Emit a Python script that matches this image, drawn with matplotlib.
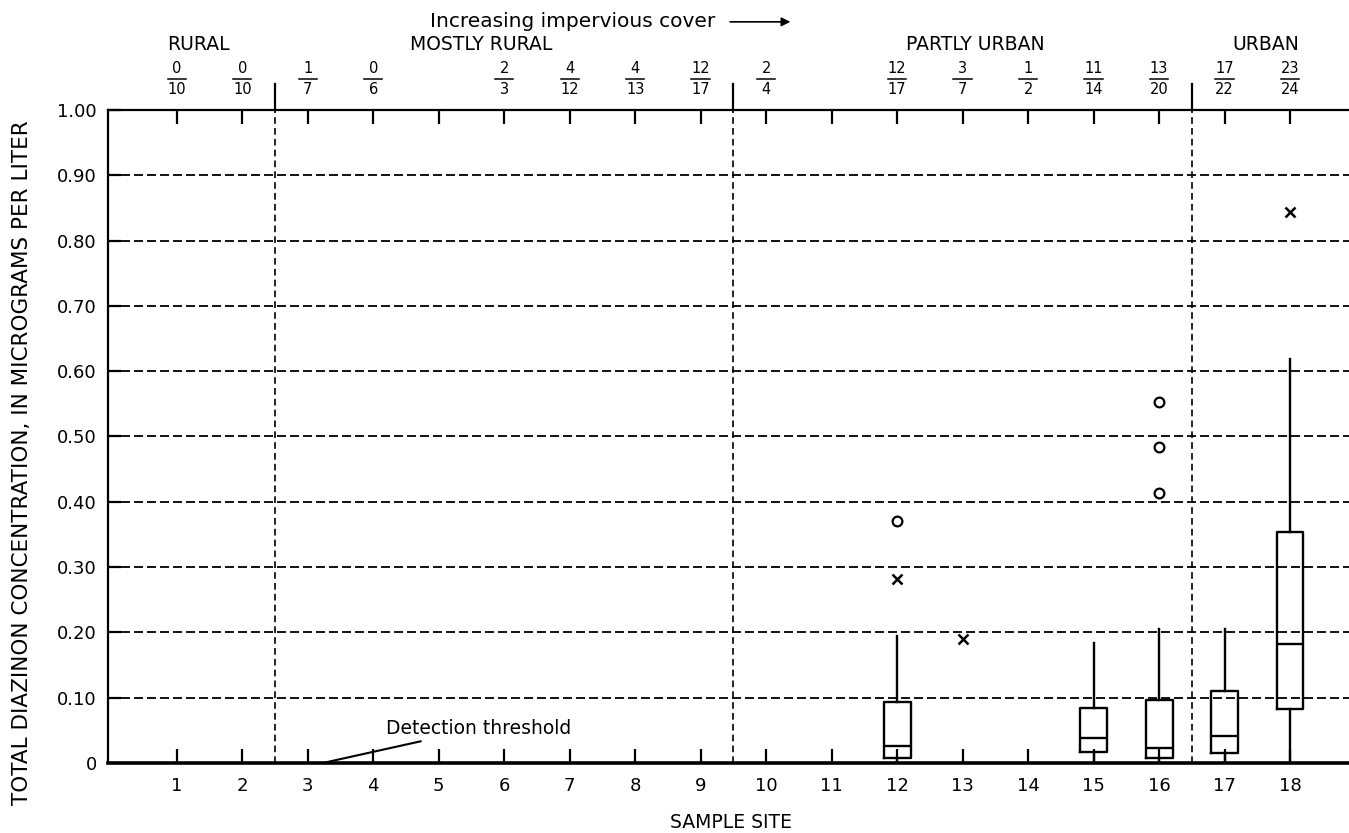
#!/usr/bin/env python3
"""
Diazinon concentration by sample site, boxplots with detection counts.
"""

import matplotlib
matplotlib.use('Agg')
import matplotlib.pyplot as plt

# Sample sites along the x axis
sites = list(range(1, 19))

# Detections / number of samples shown above each site (None = no label)
n_detected = [0, 0, 1, 0, None, 2, 4, 4, 12, 2, None, 12, 3, 1, 11, 13, 17, 23]
n_samples = [10, 10, 7, 6, None, 3, 12, 13, 17, 4, None, 17, 7, 2, 14, 20, 22, 24]

# Box plot statistics (micrograms per liter)
box_sites = [12, 15, 16, 17, 18]
box_low = [0.0, 0.0, 0.0, 0.0, 0.0]
box_q1 = [0.008, 0.017, 0.008, 0.015, 0.083]
box_med = [0.026, 0.038, 0.023, 0.041, 0.182]
box_q3 = [0.094, 0.084, 0.096, 0.110, 0.354]
box_high = [0.194, 0.184, 0.205, 0.205, 0.619]

# Outside values
circle_sites = [12, 16, 16, 16]
circle_vals = [0.371, 0.553, 0.484, 0.413]
cross_sites = [12, 13, 18]
cross_vals = [0.282, 0.190, 0.844]

# Land-use groups
land_use = ['RURAL', 'MOSTLY RURAL', 'PARTLY URBAN', 'URBAN']
land_use_breaks = [2.5, 9.5, 16.5]

y_ticks = [0, 0.1, 0.2, 0.3, 0.4, 0.5, 0.6, 0.7, 0.8, 0.9, 1.0]
y_ticklabels = ['0', '0.10', '0.20', '0.30', '0.40', '0.50',
                '0.60', '0.70', '0.80', '0.90', '1.00']

plt.rcParams['font.family'] = ['DejaVu Sans']

fig = plt.figure(figsize=(13.49, 8.33), dpi=100)
ax = fig.add_axes([108 / 1349, 1 - 763 / 833, 1 - 108 / 1349, 653 / 833])
ax.set_xlim(-0.05, 18.9)
ax.set_ylim(0, 1.0)

# spines
ax.spines['right'].set_visible(False)
ax.spines['bottom'].set_visible(False)
ax.spines['top'].set_linewidth(1.6)
ax.spines['left'].set_linewidth(1.6)

# dashed grid lines
for y in y_ticks[1:-1]:
    ax.axhline(y, color='black', lw=1.3, ls=(0, (5, 2.2)), zorder=1)
for xb in land_use_breaks:
    ax.axvline(xb, color='black', lw=1.2, ls=(0, (4, 2.5)), zorder=1)
    ax.plot([xb, xb], [1.0, 1.04], color='black', lw=1.6,
            transform=ax.get_xaxis_transform(), clip_on=False)

# detection threshold baseline
ax.axhline(0, color='black', lw=2.6, clip_on=False, zorder=3)

# boxes
stats = []
for lo, q1, med, q3, hi in zip(box_low, box_q1, box_med, box_q3, box_high):
    stats.append(dict(whislo=lo, q1=q1, med=med, q3=q3, whishi=hi, fliers=[]))
line_kw = dict(color='black', lw=1.7)
ax.bxp(stats, positions=box_sites, widths=0.41, showcaps=False,
       showfliers=False, boxprops=line_kw, whiskerprops=line_kw,
       medianprops=line_kw, manage_ticks=False)

ax.plot(circle_sites, circle_vals, ls='none', marker='o', ms=7,
        mfc='white', mec='black', mew=1.6, zorder=4)
ax.plot(cross_sites, cross_vals, ls='none', marker='x', ms=6.5,
        color='black', mew=1.8, zorder=4)

# ticks
ax.set_xticks(sites)
ax.set_xticklabels([str(s) for s in sites])
ax.tick_params(axis='x', direction='in', length=10, width=1.6, top=True,
               labelsize=13, pad=10)
ax.set_yticks(y_ticks)
ax.set_yticklabels(y_ticklabels)
ax.tick_params(axis='y', direction='in', length=9, width=1.6,
               labelsize=13, pad=8)

# detection counts above the plot
xt = ax.get_xaxis_transform()
for s, nd, ns in zip(sites, n_detected, n_samples):
    if nd is None:
        continue
    ax.text(s, 1.064, str(nd), transform=xt, ha='center', va='center',
            fontsize=10.5)
    ax.plot([s - 0.14, s + 0.14], [1.048, 1.048], color='black', lw=1.1,
            transform=xt, clip_on=False)
    ax.text(s, 1.031, str(ns), transform=xt, ha='center', va='center',
            fontsize=10.5)

# land-use labels
land_use_x = [1.33, 5.65, 13.19, 17.63]
for name, xl in zip(land_use, land_use_x):
    ax.text(xl, 1.101, name, transform=xt, ha='center', va='center',
            fontsize=13.5)

ax.text(4.87, 1.135, 'Increasing impervious cover', transform=xt,
        ha='left', va='center', fontsize=14.5)
ax.annotate('', xy=(10.37, 1.135), xytext=(9.45, 1.135),
            xycoords=xt, textcoords=xt,
            arrowprops=dict(arrowstyle='-|>', color='black', lw=1.2,
                            mutation_scale=13, shrinkA=0, shrinkB=0))

ax.annotate('Detection threshold', xy=(3.23, 0.0), xytext=(4.2, 0.053),
            ha='left', va='center', fontsize=13.5,
            arrowprops=dict(arrowstyle='-', color='black', lw=1.5,
                            shrinkA=2, shrinkB=0))

fig.text(0.0163, 1 - 463 / 833,
         'TOTAL DIAZINON CONCENTRATION, IN MICROGRAMS PER LITER',
         rotation=90, ha='center', va='center', fontsize=15.5)
fig.text(731 / 1349, 1 - 823 / 833, 'SAMPLE SITE', ha='center',
         va='center', fontsize=13.5)

fig.savefig('out.png', dpi=100)
plt.close(fig)
